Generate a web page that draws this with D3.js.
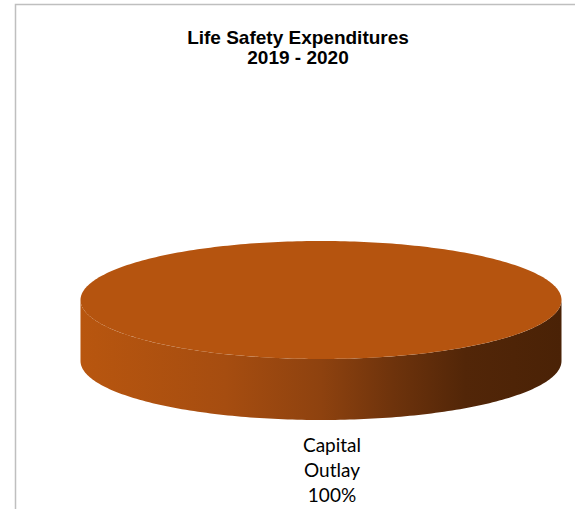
<!DOCTYPE html>
<html><head><meta charset="utf-8">
<script src="https://cdn.jsdelivr.net/npm/d3@7"></script>
<style>html,body{margin:0;padding:0;background:#fff;}svg{display:block;}</style>
</head><body>
<script>
const titleLines = ["Life Safety Expenditures", "2019 - 2020"];
const categories = ["Capital Outlay"];
const values = [100];
const labelLines = [["Capital", "Outlay"]];
const colors = ["#B5540F"];

const W = 575, H = 509;
const svg = d3.select("body").append("svg").attr("width", W).attr("height", H);

// frame
svg.append("path").attr("d", `M15.5,${H} L15.5,4.5 L${W},4.5`)
  .attr("fill", "none").attr("stroke", "#BFBFBF").attr("stroke-width", 1.5);

// title
const title = svg.append("text").attr("text-anchor", "middle")
  .attr("font-family", "Liberation Sans, Arial, sans-serif").attr("font-weight", "bold")
  .attr("font-size", 19).attr("fill", "#000");
titleLines.forEach((t, i) => title.append("tspan").attr("x", 298).attr("y", 44 + i * 19.5).text(t));

// 3D pie
const cx = 321, cy = 300, rx = 240.5, ry = 59, depth = 61;
const total = d3.sum(values);
const pct = d3.format(".0%");
const pie = d3.pie().sort(null).startAngle(0).endAngle(2 * Math.PI);
const arcs = pie(values);

const defs = svg.append("defs");
const grad = defs.append("linearGradient").attr("id", "side").attr("gradientUnits", "userSpaceOnUse")
  .attr("x1", cx - rx).attr("x2", cx + rx).attr("y1", 0).attr("y2", 0);
[[0, "#B8560F"], [0.3, "#A64D10"], [0.5, "#8E420F"], [0.65, "#6E330C"], [0.8, "#522608"], [1, "#4A2206"]]
  .forEach(([o, c]) => grad.append("stop").attr("offset", o).attr("stop-color", c));

const px = t => cx + rx * Math.cos(t), py = t => cy + ry * Math.sin(t);
function ellArc(a0, a1, dy) {
  const n = Math.max(2, Math.ceil(Math.abs(a1 - a0) / 0.02));
  return d3.range(n + 1).map(i => { const t = a0 + (a1 - a0) * i / n; return [px(t), py(t) + dy]; });
}
const conv = a => a - Math.PI / 2;

arcs.forEach((d, i) => {
  let a0 = conv(d.startAngle), a1 = conv(d.endAngle);
  const ranges = [];
  for (let k = -1; k <= 2; k++) {
    const s = Math.max(a0, k * 2 * Math.PI), e = Math.min(a1, k * 2 * Math.PI + Math.PI);
    if (e > s) ranges.push([s, e]);
  }
  ranges.forEach(([s, e]) => {
    const top = ellArc(s, e, 0), bot = ellArc(e, s, depth);
    svg.append("path").attr("d", d3.line()(top.concat(bot)) + "Z").attr("fill", "url(#side)");
  });
  const full = (d.endAngle - d.startAngle) >= 2 * Math.PI - 1e-9;
  const pts = ellArc(a0, a1, 0);
  const dTop = full ? d3.line()(pts) + "Z" : "M" + cx + "," + cy + "L" + d3.line()(pts).slice(1) + "Z";
  svg.append("path").attr("d", dTop).attr("fill", colors[i]);
});

// labels
arcs.forEach((d, i) => {
  const lines = labelLines[i].concat([pct(d.value / total)]);
  const t = svg.append("text").attr("text-anchor", "middle")
    .attr("font-family", "Lato, Carlito, Calibri, sans-serif").attr("font-size", 19).attr("fill", "#000");
  lines.forEach((l, j) => t.append("tspan").attr("x", 332).attr("y", 452 + j * 25).text(l));
});
</script>
</body></html>
